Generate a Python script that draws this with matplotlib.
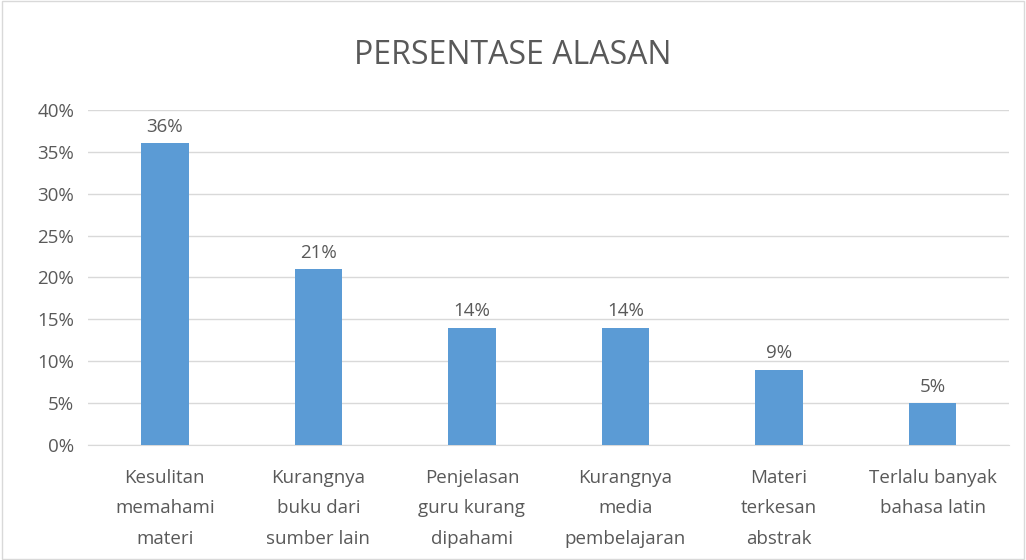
import matplotlib.pyplot as plt
from matplotlib.patches import Rectangle

categories = ["Kesulitan\nmemahami\nmateri", "Kurangnya\nbuku dari\nsumber lain",
              "Penjelasan\nguru kurang\ndipahami", "Kurangnya\nmedia\npembelajaran",
              "Materi\nterkesan\nabstrak", "Terlalu banyak\nbahasa latin"]
values = [0.36, 0.21, 0.14, 0.14, 0.09, 0.05]
yticks = [0, 0.05, 0.10, 0.15, 0.20, 0.25, 0.30, 0.35, 0.40]

plt.rcParams['font.family'] = ['Open Sans', 'DejaVu Sans']
txt = '#595959'

fig = plt.figure(figsize=(10.26, 5.6), dpi=100)
ax = fig.add_axes([0.0858, 0.2054, 0.898, 0.5982])
fig.patches.append(Rectangle((0.002, 0.002), 0.996, 0.996, transform=fig.transFigure,
                             fill=False, edgecolor='#D9D9D9', linewidth=1))

x = range(len(values))
ax.bar(x, values, width=0.31, color='#5B9BD5', zorder=3)
for i, v in zip(x, values):
    ax.text(i, v + 0.009, f"{round(v*100)}%", ha='center', va='bottom', fontsize=13.5, color=txt)

ax.set_xlim(-0.5, len(values) - 0.5)
ax.set_ylim(0, 0.4)
ax.set_yticks(yticks)
ax.set_yticklabels([f"{round(t*100)}%" for t in yticks], fontsize=13.5, color=txt)
ax.set_xticks(list(x))
ax.set_xticklabels(categories, fontsize=13.5, color=txt, linespacing=1.9)
ax.tick_params(axis='x', length=0, pad=17)
ax.tick_params(axis='y', length=0, pad=10)
ax.grid(axis='y', color='#D9D9D9', linewidth=1, zorder=0)
for s in ['top', 'right', 'left']:
    ax.spines[s].set_visible(False)
ax.spines['bottom'].set_color('#D9D9D9')

fig.text(0.5, 0.9, "PERSENTASE ALASAN", ha='center', va='center', fontsize=23, color=txt)

fig.savefig('out.png', dpi=100)
